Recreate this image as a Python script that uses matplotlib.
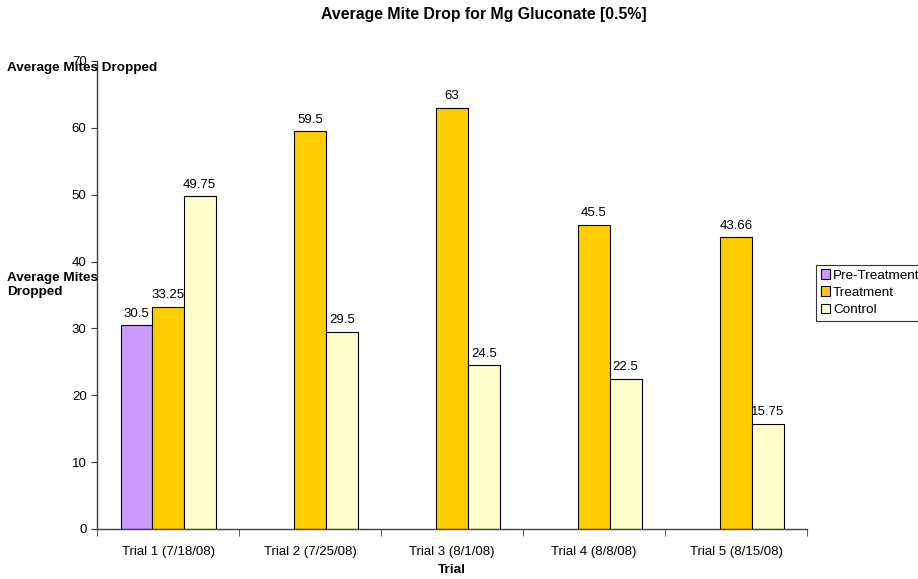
import matplotlib
matplotlib.use("Agg")
import matplotlib.pyplot as plt
import numpy as np

plt.rcParams['font.family'] = ['Liberation Sans', 'DejaVu Sans']

trials = ["Trial 1 (7/18/08)", "Trial 2 (7/25/08)", "Trial 3 (8/1/08)",
          "Trial 4 (8/8/08)", "Trial 5 (8/15/08)"]
pre_treatment = [30.5, None, None, None, None]
treatment = [33.25, 59.5, 63, 45.5, 43.66]
control = [49.75, 29.5, 24.5, 22.5, 15.75]

fig = plt.figure(figsize=(9.18, 5.79), dpi=100)
ax = fig.add_axes([0.1057, 0.0864, 0.7734, 0.8083])

x = np.arange(len(trials))
w = 0.223
series = [
    ("Pre-Treatment", pre_treatment, "#CC99FF", -w),
    ("Treatment", treatment, "#FFCC00", 0.0),
    ("Control", control, "#FFFFCC", w),
]
for name, vals, color, off in series:
    xs = [xi + off for xi, v in zip(x, vals) if v is not None]
    vs = [v for v in vals if v is not None]
    ax.bar(xs, vs, width=w, color=color, edgecolor="black",
           linewidth=0.8, label=name)
    for xi, v in zip(xs, vs):
        ax.annotate(f"{v:g}", (xi, v), xytext=(0, 4), textcoords="offset points",
                    ha="center", va="bottom", fontsize=9.5)

ax.set_xlim(-0.5, len(trials) - 0.5)
ax.set_ylim(0, 70)
ax.set_yticks(range(0, 71, 10))
ax.set_xticks(x)
ax.set_xticklabels(trials, fontsize=9.5)
ax.set_xticks(np.arange(-0.5, len(trials), 1.0), minor=True)
ax.tick_params(axis="x", which="major", length=0, pad=12)
ax.tick_params(axis="x", which="minor", length=5, direction="out", color="#404040")
ax.tick_params(axis="y", length=4, direction="out", labelsize=9.5, color="#404040")

for side in ("top", "right"):
    ax.spines[side].set_visible(False)
for side in ("left", "bottom"):
    ax.spines[side].set_color("#404040")
    ax.spines[side].set_linewidth(1.0)

fig.text(0.527, 0.975, "Average Mite Drop for Mg Gluconate [0.5%]", ha="center",
         va="center", fontsize=11.4, fontweight="bold")
fig.text(0.492, 0.015, "Trial", ha="center", va="center", fontsize=9.7,
         fontweight="bold")
fig.text(0.008, 0.882, "Average Mites Dropped", ha="left", va="center",
         fontsize=9.7, fontweight="bold")
fig.text(0.008, 0.508, "Average Mites\nDropped", ha="left", va="center",
         fontsize=9.7, fontweight="bold", linespacing=1.25)

leg = fig.legend(loc="upper left", bbox_to_anchor=(0.889, 0.543), fontsize=9.7,
                 frameon=True, fancybox=False, edgecolor="black",
                 handlelength=0.7, handleheight=0.7, handletextpad=0.2,
                 borderpad=0.35, labelspacing=0.35, borderaxespad=0)
leg.get_frame().set_linewidth(0.8)

fig.savefig("out.png", dpi=100)
